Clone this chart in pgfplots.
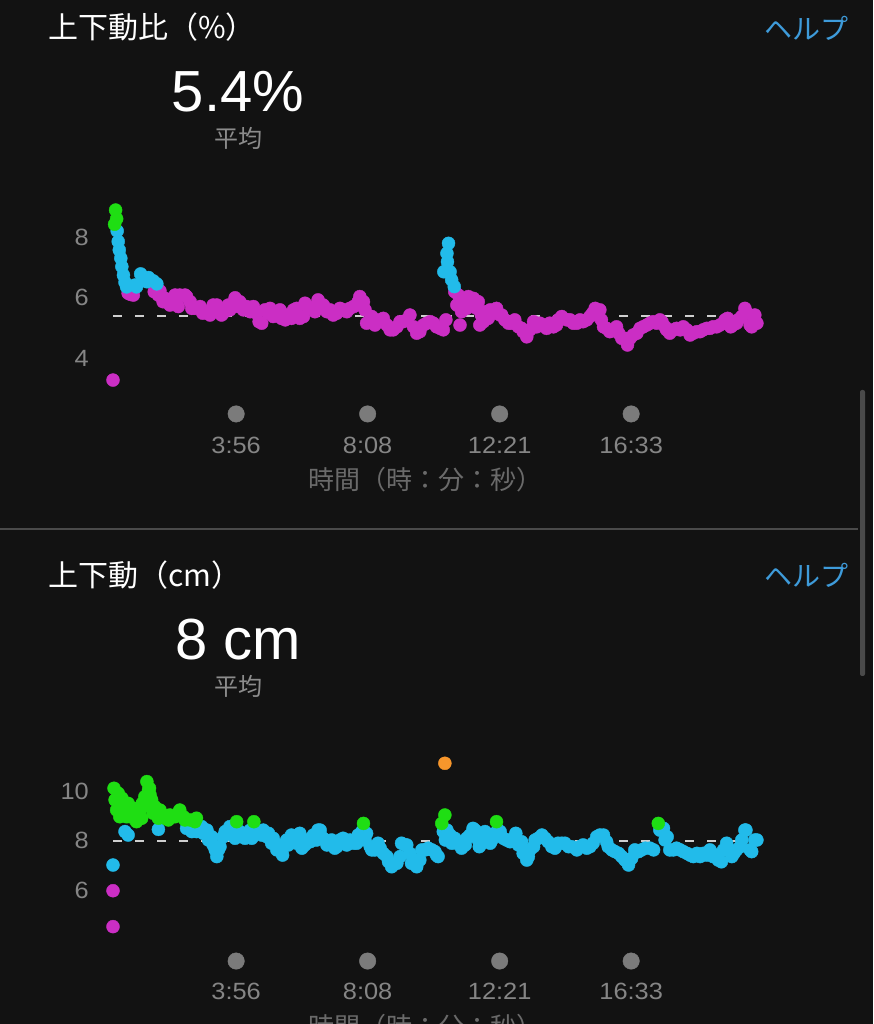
\documentclass[border=0pt]{standalone}
\usepackage{fontspec}
\setmainfont{Liberation Sans}
\newfontfamily\cjk{Noto Sans CJK JP}
\usepackage{pgfplots}
\usepackage{pgfplotstable}
\pgfplotsset{compat=1.18}

\definecolor{bg}{HTML}{121212}
\definecolor{vmag}{HTML}{CB2EC4}
\definecolor{vcyan}{HTML}{22BBEA}
\definecolor{vgreen}{HTML}{1FDE13}
\definecolor{vorange}{HTML}{F7962B}
\definecolor{tickgray}{HTML}{858585}
\definecolor{labgray}{HTML}{6A6A6A}
\definecolor{dotgray}{HTML}{7B7B7B}
\definecolor{avggray}{HTML}{8C8C8C}
\definecolor{helpblue}{HTML}{3E9BDA}
\definecolor{sepgray}{HTML}{4A4A4A}
\definecolor{dashgray}{HTML}{CFCFCF}

% vertical ratio (%), t in seconds
\pgfplotstableread{
t v
0 3.27
3 8.42
5 8.89
7 8.60
8 8.20
10 7.85
12 7.57
15 7.30
17 7.02
20 6.74
23 6.50
26 6.35
29 6.14
34 6.10
39 6.08
42 6.41
45 6.35
53 6.78
58 6.66
65 6.52
68 6.66
77 6.55
84 6.45
79 6.19
90 6.22
100 5.97
109 5.75
119 6.08
128 6.08
138 6.08
148 5.86
157 5.64
167 5.70
180 5.53
192 5.75
202 5.53
211 5.48
221 5.75
234 5.99
243 5.86
256 5.70
269 5.70
280 5.20
291 5.59
301 5.64
314 5.53
323 5.31
333 5.42
346 5.59
358 5.31
368 5.81
381 5.64
393 5.92
403 5.75
416 5.59
429 5.48
441 5.59
454 5.64
467 5.75
473 6.03
480 5.86
486 5.15
496 5.37
505 5.20
518 5.31
531 4.93
544 5.03
556 5.20
569 5.42
582 4.82
595 5.09
608 5.20
620 5.03
633 4.93
638 5.26
643 7.79
640 7.46
641 7.18
634 6.85
646 6.85
649 6.58
654 6.36
655 6.19
659 5.75
665 5.09
671 5.86
681 6.03
691 5.97
697 5.64
703 5.09
713 5.53
723 5.59
735 5.64
745 5.42
758 5.15
770 5.26
783 4.98
793 4.70
806 5.20
818 5.15
831 4.98
844 5.03
853 5.26
863 5.31
876 5.26
889 5.15
901 5.20
914 5.37
924 5.64
933 5.59
940 5.03
952 4.87
965 5.03
975 4.65
986 4.43
997 4.76
1010 4.98
1023 5.09
1035 5.20
1048 5.26
1058 5.03
1067 4.82
1080 4.98
1093 5.03
1106 4.76
1119 4.87
1131 4.93
1144 4.98
1157 5.03
1170 5.15
1178 5.31
1188 5.09
1198 5.26
1211 5.64
1221 5.09
1230 5.42
1234 5.15
87 6.08
96 5.86
116 5.97
125 5.70
141 6.03
151 5.64
172 5.48
186 5.42
199 5.75
208 5.42
224 5.59
240 5.70
250 5.59
263 5.53
275 5.48
285 5.15
298 5.48
307 5.37
320 5.59
330 5.26
342 5.31
352 5.64
365 5.37
374 5.70
387 5.53
397 5.75
410 5.53
422 5.42
435 5.64
448 5.53
461 5.70
470 5.86
483 5.59
493 5.26
502 5.09
512 5.26
525 5.09
537 4.93
550 5.20
563 5.26
576 5.03
588 4.87
601 5.15
614 5.15
627 4.98
662 6.08
668 5.53
678 5.64
687 5.86
700 5.86
706 5.42
710 5.20
719 5.31
729 5.48
742 5.42
751 5.26
764 5.15
777 5.03
786 4.87
799 4.93
812 5.03
825 5.09
837 5.15
850 5.09
860 5.37
870 5.26
882 5.15
895 5.26
908 5.26
919 5.48
929 5.53
936 5.26
946 4.98
959 4.93
969 4.82
981 4.65
991 4.65
1004 4.82
1016 5.03
1029 5.15
1042 5.15
1052 5.20
1061 4.93
1074 4.93
1087 4.93
1100 4.93
1112 4.82
1125 4.87
1138 4.98
1150 5.03
1163 5.09
1173 5.26
1184 5.03
1195 5.15
1205 5.37
1215 5.48
1224 5.03
}\ratio

% vertical oscillation (cm)
\pgfplotstableread{
t v
0 7.02
0 5.98
0 4.53
2 10.12
4 9.65
7 9.24
13 8.97
17 9.72
23 9.17
29 9.51
33 8.97
39 9.31
42 9.05
45 8.77
52 9.24
55 8.91
58 9.38
65 10.39
70 10.12
71 9.85
74 9.65
77 9.11
90 9.24
100 8.91
109 9.04
119 8.97
128 9.24
135 8.97
160 8.91
10 9.92
20 9.38
26 8.97
36 9.04
47 9.31
56 9.51
61 9.78
68 10.05
80 9.38
87 8.91
96 9.04
106 8.84
114 8.97
125 9.11
138 8.84
148 8.84
157 8.77
23 8.37
29 8.23
87 8.46
141 8.50
151 8.37
170 8.57
180 8.43
189 8.16
196 7.63
199 7.36
205 7.76
215 8.37
224 8.57
231 8.30
237 8.77
243 8.37
253 8.10
263 8.43
270 8.77
278 8.37
288 8.43
298 8.30
307 8.10
317 7.83
325 7.42
336 7.83
346 8.10
355 8.23
362 7.70
371 8.03
384 8.23
393 8.43
403 8.10
416 7.90
425 7.70
435 8.03
448 7.83
461 7.90
470 8.23
480 8.70
486 8.30
493 7.76
502 7.63
512 7.70
525 7.36
534 6.95
544 7.09
553 7.90
563 7.83
572 7.09
582 6.95
592 7.63
604 7.70
611 7.63
617 7.56
623 7.36
630 8.70
633 8.37
636 9.04
637 8.03
636 11.13
646 8.23
659 7.90
668 7.70
678 8.10
690 8.50
702 7.76
713 8.37
726 8.03
735 8.77
738 8.43
748 8.10
761 7.96
772 8.30
783 7.96
793 7.22
799 7.63
809 8.03
822 8.23
834 7.96
847 7.70
860 7.90
873 7.76
889 7.63
901 7.83
914 7.76
927 8.16
940 8.23
949 7.76
962 7.56
975 7.36
988 7.02
1000 7.63
1013 7.63
1029 7.70
1045 8.70
1055 8.50
1058 8.03
1067 7.63
1080 7.70
1093 7.56
1106 7.42
1119 7.49
1131 7.49
1144 7.63
1157 7.42
1166 7.15
1176 7.90
1186 7.36
1195 7.63
1205 8.03
1211 8.43
1221 7.63
1230 8.03
160 8.37
173 8.30
183 8.03
192 7.83
202 7.63
211 8.16
221 8.30
234 8.10
247 8.16
256 8.30
266 8.10
275 8.43
285 8.23
295 8.16
304 7.90
314 7.63
323 7.56
333 8.03
342 8.23
352 7.90
358 8.30
368 7.83
378 7.96
390 8.03
397 8.43
410 7.83
419 8.03
429 7.76
441 8.10
454 8.03
467 7.90
477 8.37
483 8.03
496 7.63
508 7.90
518 7.49
528 7.15
537 7.02
550 7.36
560 7.83
569 7.49
579 7.22
588 7.22
598 7.63
620 7.42
640 8.43
649 7.90
655 8.10
665 7.90
675 7.83
684 8.23
694 8.43
700 8.03
707 7.90
716 8.30
723 7.90
732 8.30
742 8.37
754 8.03
767 8.10
777 7.83
786 7.49
796 7.36
806 7.76
815 8.10
828 8.10
841 7.76
853 7.90
866 7.90
879 7.76
895 7.76
908 7.70
920 7.90
933 8.23
946 7.96
956 7.63
969 7.49
981 7.22
994 7.29
1007 7.56
1020 7.70
1036 7.63
1048 8.43
1062 8.16
1074 7.63
1087 7.63
1100 7.49
1112 7.36
1125 7.36
1138 7.42
1150 7.36
1160 7.22
1170 7.63
1179 7.63
1190 7.49
1202 7.76
1213 8.43
1224 7.56
1234 8.03
}\osc

\pgfplotsset{
  garmin/.style={
    anchor=south west, clip=false,
    x=0.5218pt,
    xmin=0, xmax=1234,
    axis line style={draw=none},
    major tick length=0pt,
    tick style={draw=none},
    xtick={236,488,741,993},
    xticklabels={3:56,8:08,12:21,16:33},
    ticklabel style={color=tickgray, font=\fontsize{23.5}{24}\selectfont, inner sep=0pt},
    xticklabel style={anchor=base, yshift=-35pt, xscale=1.08},
    yticklabel style={anchor=east, xshift=-24pt, xscale=1.08},
    xlabel={\cjk 時間（時：分：秒）},
    xlabel style={at={(axis description cs:0.486,0)}, anchor=base, yshift=-71.5pt,
      inner sep=0pt, color=labgray, font=\fontsize{26}{26}\selectfont},
  },
  pts/.style={only marks, mark=*, mark size=6.5pt, color=#1},
}

\begin{document}
\begin{tikzpicture}
\useasboundingbox (0,0) rectangle (873pt,1024pt);
\clip (0,0) rectangle (873pt,1024pt);
\fill[bg] (0,0) rectangle (873pt,1024pt);

% headers, top panel
\node[anchor=base west, inner sep=0pt, white, font=\cjk\fontsize{30}{30}\selectfont] at (48pt,985pt) {上下動比（\%）};
\node[anchor=base east, inner sep=0pt, helpblue, font=\cjk\fontsize{28}{28}\selectfont] at (849pt,984pt) {ヘルプ};
\node[anchor=base, inner sep=0pt, white, font=\fontsize{58}{58}\selectfont] at (238pt,912.3pt) {5.4\%};
\node[anchor=base, inner sep=0pt, avggray, font=\cjk\fontsize{24}{24}\selectfont] at (238pt,876pt) {平均};

\fill[sepgray] (0,494pt) rectangle (858pt,496pt);
\fill[sepgray, rounded corners=2pt] (860pt,348pt) rectangle (865pt,634pt);

% headers, bottom panel
\node[anchor=base west, inner sep=0pt, white, font=\cjk\fontsize{30}{30}\selectfont] at (48pt,437pt) {上下動（cm）};
\node[anchor=base east, inner sep=0pt, helpblue, font=\cjk\fontsize{28}{28}\selectfont] at (849pt,437pt) {ヘルプ};
\node[anchor=base, inner sep=0pt, white, font=\fontsize{58}{58}\selectfont] at (238pt,364pt) {8 cm};
\node[anchor=base, inner sep=0pt, avggray, font=\cjk\fontsize{24}{24}\selectfont] at (238pt,328pt) {平均};

% vertical ratio
\begin{axis}[garmin, at={(113pt,605.5pt)}, y=30.25pt, ymin=2, ymax=9,
  ytick={4,6,8}, yticklabels={4,6,8}]
\addplot[only marks, mark=*, mark size=8.25pt, color=dotgray] coordinates {(236,2.15) (488,2.15) (741,2.15) (993,2.15)};
\addplot[pts=vmag, restrict y to domain=0:6.3] table[x=t,y=v] {\ratio};
\addplot[pts=vcyan, restrict y to domain=6.3:8.3] table[x=t,y=v] {\ratio};
\addplot[pts=vgreen, restrict y to domain=8.3:12] table[x=t,y=v] {\ratio};
\addplot[dashgray, line width=2pt, dash pattern=on 9pt off 13pt] coordinates {(0,5.4) (1234,5.4)};
\end{axis}

% vertical oscillation
\begin{axis}[garmin, at={(113pt,59.5pt)}, y=24.75pt, ymin=3, ymax=11.7,
  ytick={6,8,10}, yticklabels={6,8,10}]
\addplot[only marks, mark=*, mark size=8.25pt, color=dotgray] coordinates {(236,3.14) (488,3.14) (741,3.14) (993,3.14)};
\addplot[pts=vmag, restrict y to domain=0:6.7] table[x=t,y=v] {\osc};
\addplot[pts=vcyan, restrict y to domain=6.7:8.65] table[x=t,y=v] {\osc};
\addplot[pts=vgreen, restrict y to domain=8.65:10.8] table[x=t,y=v] {\osc};
\addplot[pts=vorange, restrict y to domain=10.8:13] table[x=t,y=v] {\osc};
\addplot[dashgray, line width=2pt, dash pattern=on 9pt off 13pt] coordinates {(0,8) (1234,8)};
\end{axis}
\end{tikzpicture}
\end{document}
